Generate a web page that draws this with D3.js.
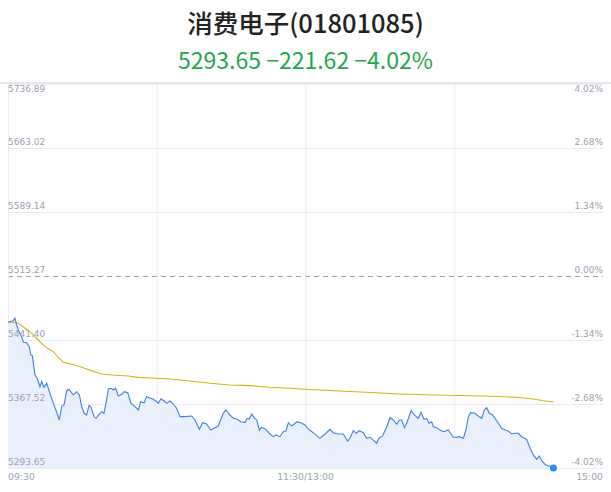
<!DOCTYPE html>
<html>
<head>
<meta charset="utf-8">
<title>消费电子</title>
<script src="https://cdn.jsdelivr.net/npm/d3@7"></script>
<style>
  body { margin: 0; background: #fff; }
  svg { display: block; }
</style>
</head>
<body>
<script>
// header
var titleText = "消费电子(01801085)";
var quoteText = "5293.65 \u2212221.62 \u22124.02%";
var preClose = 5515.27;

// axis ticks
var yTicks = [5736.89, 5663.02, 5589.14, 5515.27, 5441.40, 5367.52, 5293.65];
var pctLabels = ["4.02%", "2.68%", "1.34%", "0.00%", "-1.34%", "-2.68%", "-4.02%"];
var xTicks = [0, 60, 120, 180, 240];
var xLabels = ["09:30", "", "11:30/13:00", "", "15:00"];

// price, minutes after 09:30 (lunch break removed)
var minutes = [0, 2.1, 2.8, 3.5, 4.2, 5.5, 6.2, 7.5, 8.6, 9.2, 9.8, 10.9, 11.8, 12.9, 13.6, 14.5, 15.6, 16.9, 18.3, 19.6,
  20.7, 21.7, 22.6, 23.7, 24.6, 26.3, 27.7, 28.8, 29.7, 30.7, 31.7, 32.7, 33.5, 34.7, 35.5, 36.8, 37.8, 38.7, 39.5, 40.5,
  41.5, 42.5, 43.4, 44.5, 45.9, 46.9, 48.3, 49.6, 51.2, 52.6, 53.5, 54.9, 55.9, 57.0, 58.6, 60.0, 60.6, 61.7, 62.9, 64.0,
  65.3, 66.7, 68.0, 69.4, 71.4, 74.1, 75.4, 77.2, 78.5, 80.1, 81.8, 83.1, 84.8, 86.8, 87.9, 89.5, 90.9, 92.5, 93.9, 95.6,
  96.5, 97.3, 98.3, 99.2, 100.3, 101.4, 102.3, 103.7, 105.7, 107.0, 108.1, 109.7, 111.0, 112.1, 113.1, 114.4, 116.7, 118.5, 119.8, 121.1,
  123.1, 125.8, 127.9, 129.9, 131.2, 133.2, 135.2, 137.0, 137.9, 139.3, 140.4, 141.7, 143.3, 144.7, 146.0, 147.6, 148.7, 149.6, 151.1, 152.8,
  154.1, 155.4, 156.8, 157.8, 158.8, 159.9, 160.8, 162.6, 164.2, 165.5, 166.6, 167.8, 168.9, 169.8, 170.9, 171.6, 172.9, 174.3, 175.6, 177.6,
  179.6, 181.0, 182.0, 183.7, 184.7, 185.7, 186.6, 188.4, 189.7, 191.1, 192.1, 193.1, 194.1, 195.5, 196.4, 197.8, 199.1, 200.5, 201.8, 203.2,
  204.5, 205.8, 207.2, 209.2, 210.6, 211.9, 213.3, 214.3, 215.3, 216.6, 217.9, 218.6, 220];
var prices = [5461.8, 5463.7, 5466.5, 5458.7, 5452.9, 5445.2, 5438.8, 5438.3, 5433.7, 5424.1, 5423.3, 5401.0, 5397.2, 5387.5, 5393.3, 5386.8, 5391.4, 5379.9, 5368.3, 5358.6,
  5349.1, 5365.2, 5366.4, 5382.9, 5384.5, 5377.9, 5381.7, 5377.9, 5364.4, 5356.8, 5354.8, 5366.0, 5363.7, 5352.9, 5351.0, 5355.6, 5358.6, 5356.8, 5368.3, 5384.8,
  5385.7, 5383.7, 5385.7, 5376.8, 5378.7, 5381.7, 5380.6, 5368.3, 5364.4, 5360.6, 5370.2, 5369.0, 5376.0, 5374.8, 5373.0, 5370.2, 5368.3, 5373.6, 5371.3, 5368.3,
  5371.0, 5367.5, 5362.6, 5352.9, 5352.9, 5353.7, 5349.1, 5338.3, 5345.9, 5344.4, 5337.5, 5339.5, 5342.1, 5356.8, 5360.6, 5354.8, 5351.0, 5349.9, 5347.1, 5346.4,
  5351.0, 5350.2, 5356.0, 5352.2, 5349.1, 5337.5, 5340.6, 5338.7, 5332.9, 5329.8, 5331.8, 5329.8, 5335.6, 5336.4, 5345.9, 5342.1, 5347.1, 5345.3, 5343.3, 5338.7,
  5334.4, 5327.9, 5332.9, 5338.3, 5334.4, 5332.9, 5332.9, 5324.8, 5327.9, 5336.7, 5333.7, 5336.7, 5334.4, 5327.9, 5329.1, 5325.2, 5322.2, 5327.9, 5330.6, 5341.3,
  5351.7, 5349.1, 5344.1, 5349.1, 5349.1, 5340.2, 5345.3, 5359.8, 5354.0, 5351.0, 5357.9, 5349.9, 5351.0, 5345.3, 5347.1, 5341.3, 5340.2, 5337.5, 5335.6, 5337.5,
  5329.1, 5329.1, 5329.8, 5327.9, 5337.5, 5352.9, 5357.5, 5356.8, 5353.7, 5351.0, 5360.6, 5363.3, 5356.8, 5354.8, 5351.0, 5345.3, 5339.5, 5337.5, 5336.4, 5332.9,
  5333.7, 5333.7, 5329.8, 5326.8, 5316.4, 5308.7, 5303.7, 5307.5, 5302.1, 5297.9, 5296.0, 5296.0, 5293.65];

// average price line
var avgMinutes = [0, 2.1, 4.2, 6.9, 9.6, 12.2, 14.9, 18.3, 20.3, 22.3, 25.7, 29.7, 33.8, 37.8, 41.8, 48.5, 52.6, 59.3,
  65.3, 73.4, 81.5, 89.5, 97.6, 105.7, 113.7, 119.8, 131.2, 144.7, 158.1, 171.6, 191.7, 205.2, 211.9, 216.0, 220];
var avgPrices = [5461.8, 5461.8, 5460.7, 5454.9, 5449.1, 5441.4, 5433.7, 5427.9, 5421.4, 5415.7, 5413.4, 5409.9, 5406.0, 5402.2, 5401.0, 5399.9, 5398.3, 5397.2,
  5396.4, 5394.1, 5391.4, 5389.5, 5388.7, 5386.8, 5385.7, 5384.5, 5382.9, 5381.0, 5379.1, 5377.9, 5376.8, 5375.3, 5373.3, 5371.3, 5370.2];

var W = 611, H = 492;
var plotL = 8, plotR = 603, plotT = 84, plotB = 468;
var labelFont = "DejaVu Sans, sans-serif";
var gray = "#9ca1b0";

var svg = d3.select("body").append("svg")
    .attr("width", W)
    .attr("height", H);

var x = d3.scaleLinear().domain([0, 240]).range([plotL, plotR]);
var y = d3.scaleLinear().domain([yTicks[yTicks.length - 1], yTicks[0]]).range([plotB, plotT]);

// title
svg.append("text")
    .attr("x", W / 2).attr("y", 33)
    .attr("text-anchor", "middle")
    .attr("font-family", "Noto Sans CJK SC, sans-serif")
    .attr("font-size", 25.5)
    .attr("font-weight", 500)
    .attr("fill", "#222")
    .text(titleText);

svg.append("text")
    .attr("x", W / 2).attr("y", 69)
    .attr("text-anchor", "middle")
    .attr("font-family", "Noto Sans CJK SC, sans-serif")
    .attr("font-size", 23)
    .attr("fill", "#1fa84a")
    .text(quoteText);

// horizontal grid
var gy = svg.append("g")
    .attr("transform", "translate(" + plotL + ",0)")
    .call(d3.axisRight(y).tickValues(yTicks).tickSize(plotR - plotL).tickFormat(""));
gy.select(".domain").remove();
gy.selectAll(".tick line").attr("stroke", "#ebebf0");
gy.selectAll(".tick").filter(function (d) { return d === preClose; }).select("line")
    .attr("stroke", "#9d9dad")
    .attr("stroke-dasharray", "5,4");

// vertical grid
var gx = svg.append("g")
    .attr("transform", "translate(0," + plotB + ")")
    .call(d3.axisBottom(x).tickValues(xTicks.slice(0, 4)).tickSize(-(plotB - plotT)).tickFormat(""));
gx.select(".domain").remove();
gx.selectAll(".tick line").attr("stroke", "#ebebf0");

// header separator
svg.append("rect")
    .attr("x", 0).attr("y", 82)
    .attr("width", W).attr("height", 2)
    .attr("fill", "#e6e6eb");

// area + price line
var pts = minutes.map(function (m, i) { return [m, prices[i]]; });
var avgPts = avgMinutes.map(function (m, i) { return [m, avgPrices[i]]; });

svg.append("path")
    .datum(pts)
    .attr("fill", "#e9f0fc")
    .attr("d", d3.area().x(function (d) { return x(d[0]); }).y0(plotB).y1(function (d) { return y(d[1]); }));

svg.append("path")
    .datum(avgPts)
    .attr("fill", "none")
    .attr("stroke", "#d6b412")
    .attr("stroke-width", 1.1)
    .attr("d", d3.line().x(function (d) { return x(d[0]); }).y(function (d) { return y(d[1]); }));

svg.append("path")
    .datum(pts)
    .attr("fill", "none")
    .attr("stroke", "#3e80e8")
    .attr("stroke-width", 1.1)
    .attr("d", d3.line().x(function (d) { return x(d[0]); }).y(function (d) { return y(d[1]); }));

var last = pts[pts.length - 1];
svg.append("circle")
    .attr("cx", x(last[0]))
    .attr("cy", y(last[1]))
    .attr("r", 3.5)
    .attr("fill", "#2e8df2");

// y labels
function labelY(d, i) { return i === 0 ? y(d) + 8 : y(d) - 3; }

svg.selectAll(".ylab").data(yTicks).enter().append("text")
    .attr("x", plotL)
    .attr("y", labelY)
    .attr("font-family", labelFont)
    .attr("font-size", 9)
    .attr("fill", gray)
    .text(function (d) { return d.toFixed(2); });

svg.selectAll(".plab").data(yTicks).enter().append("text")
    .attr("x", plotR)
    .attr("y", labelY)
    .attr("text-anchor", "end")
    .attr("font-family", labelFont)
    .attr("font-size", 9)
    .attr("fill", gray)
    .text(function (d, i) { return pctLabels[i]; });

// x labels
svg.selectAll(".xlab").data(xTicks).enter().append("text")
    .attr("x", function (d) { return x(d); })
    .attr("y", 480)
    .attr("text-anchor", function (d, i) { return i === 0 ? "start" : (i === xTicks.length - 1 ? "end" : "middle"); })
    .attr("font-family", labelFont)
    .attr("font-size", 9.3)
    .attr("fill", gray)
    .text(function (d, i) { return xLabels[i]; });
</script>
</body>
</html>
